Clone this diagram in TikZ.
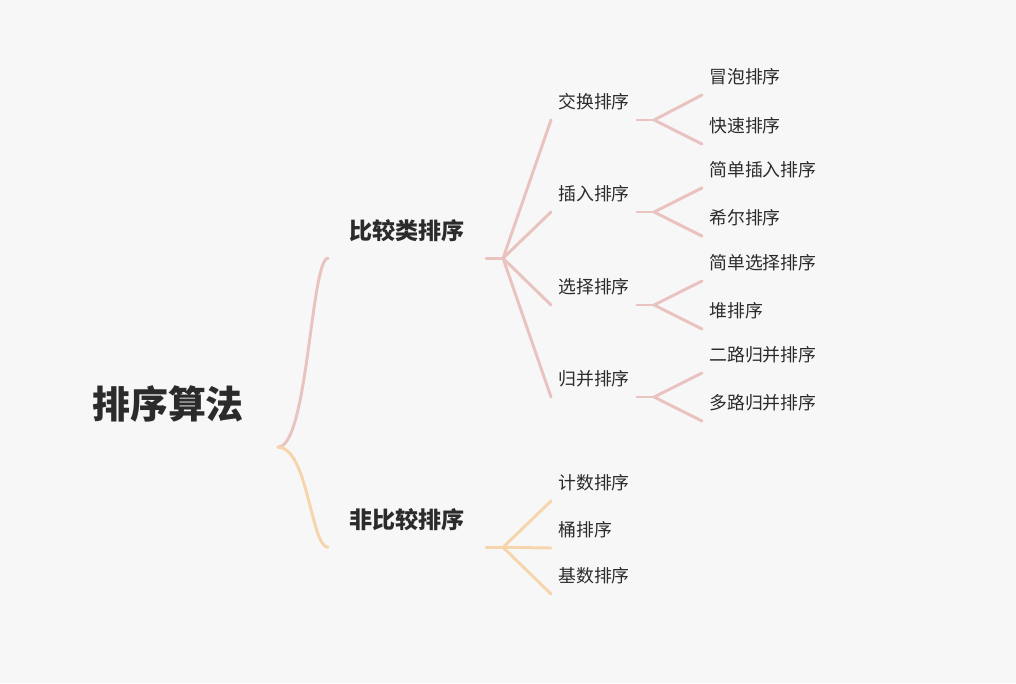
\documentclass[tikz,border=0pt]{standalone}
\usepackage{fontspec}
\setmainfont{Noto Sans CJK SC}
\definecolor{bgcol}{HTML}{F7F7F7}
\definecolor{txtcol}{HTML}{2B2B2B}
\definecolor{pinkline}{HTML}{E9C3BF}
\definecolor{orangeline}{HTML}{F6D5AD}
\tikzset{
  rootnode/.style={font=\fontsize{27}{27}\selectfont\bfseries, text=txtcol, minimum height=61pt, inner xsep=24pt, inner ysep=0pt},
  catnode/.style={font=\fontsize{16.4}{16.4}\selectfont\bfseries, text=txtcol, minimum height=38.4pt, inner xsep=15pt, inner ysep=0pt},
  leafnode/.style={anchor=south west, font=\fontsize{12.7}{12.7}\selectfont, text=txtcol, inner xsep=5pt, inner ysep=0pt, text height=12pt, text depth=7.8pt},
  branch/.style={line width=2.1pt, line cap=round, line join=round},
}
\begin{document}
\begin{tikzpicture}[x=0.025cm, y=-0.025cm]
        % Fond
        \fill[bgcol] (0,0) rectangle (1016,683);
        \useasboundingbox (0,0) rectangle (1016,683);
        % Racine
        \node[rootnode] (root) at (168,404) {排序算法};
        % Niveau 1
        \node[catnode] (cmp) at (407,231) {比较类排序};
        \node[catnode] (noncmp) at (407,520) {非比较排序};
        % Niveau 2 : tris par comparaison
        \node[leafnode] (swap) at (551,120) {交换排序};
        \node[leafnode] (insert) at (551,212) {插入排序};
        \node[leafnode] (select) at (551,305) {选择排序};
        \node[leafnode] (merge) at (551,397) {归并排序};
        % Niveau 2 : tris sans comparaison
        \node[leafnode] (count) at (551,501) {计数排序};
        \node[leafnode] (bucket) at (551,548) {桶排序};
        \node[leafnode] (radix) at (551,594) {基数排序};
        % Niveau 3
        \node[leafnode] (bubble) at (702,95) {冒泡排序};
        \node[leafnode] (quick) at (702,144) {快速排序};
        \node[leafnode] (direct) at (702,188) {简单插入排序};
        \node[leafnode] (shell) at (702,236) {希尔排序};
        \node[leafnode] (simple) at (702,281) {简单选择排序};
        \node[leafnode] (heap) at (702,329) {堆排序};
        \node[leafnode] (twoway) at (702,373) {二路归并排序};
        \node[leafnode] (multiway) at (702,421) {多路归并排序};
        % Accolade
        \draw[branch, pinkline] (root.south east) .. controls +(30,0) and +(-17,0) .. (cmp.south west);
        \draw[branch, orangeline] (root.south east) .. controls +(30,0) and +(-17,0) .. (noncmp.south west);
        % Branches niveau 1 -> niveau 2
        \draw[branch, pinkline] (cmp.south east) -- ++(17,0) coordinate (cmpj);
        \foreach \c in {swap, insert, select, merge} {
            \draw[branch, pinkline] (cmpj) -- (\c.south west);
        }
        \draw[branch, orangeline] (noncmp.south east) -- ++(17,0) coordinate (noncmpj);
        \foreach \c in {count, bucket, radix} {
            \draw[branch, orangeline] (noncmpj) -- (\c.south west);
        }
        % Branches niveau 2 -> niveau 3
        \foreach \p/\a/\b in {swap/bubble/quick, insert/direct/shell, select/simple/heap, merge/twoway/multiway} {
            \draw[branch, pinkline] (\p.south east) -- ++(17,0) coordinate (\p j);
            \draw[branch, pinkline] (\a.south west) -- (\p j) -- (\b.south west);
        }
\end{tikzpicture}
\end{document}
